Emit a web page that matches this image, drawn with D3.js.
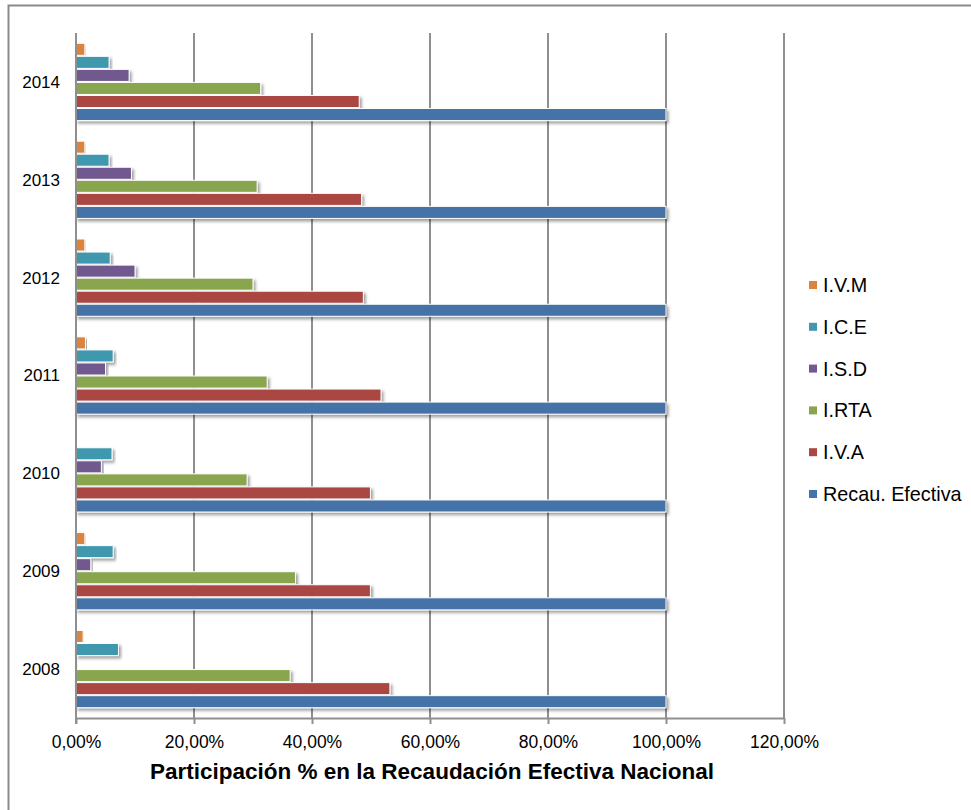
<!DOCTYPE html>
<html>
<head>
<meta charset="utf-8">
<script src="https://cdn.jsdelivr.net/npm/d3@7"></script>
<style>
  html, body { margin: 0; padding: 0; background: #fff; }
  svg { display: block; font-family: Arial, "Liberation Sans", sans-serif; }
</style>
</head>
<body>
<svg id="chart" width="971" height="810"></svg>
<script>
// Years, top to bottom in the chart
const years = ["2014", "2013", "2012", "2011", "2010", "2009", "2008"];

// Series order inside each year group (top to bottom)
const seriesNames = ["I.V.M", "I.C.E", "I.S.D", "I.RTA", "I.V.A", "Recau. Efectiva"];
const seriesColors = ["#DB843D", "#4198AF", "#71588F", "#89A54E", "#AA4643", "#4572A7"];

// Share (%) of national effective collection, per year in the order of `years`
const ivm   = [1.5, 1.5, 1.5, 1.6, 0.0, 1.5, 1.2];
const ice   = [5.6, 5.6, 5.8, 6.3, 6.1, 6.3, 7.2];
const isd   = [9.0, 9.4, 10.0, 5.0, 4.3, 2.5, 0.2];
const irta  = [31.3, 30.7, 30.0, 32.4, 29.0, 37.2, 36.3];
const iva   = [48.0, 48.4, 48.7, 51.7, 49.9, 49.9, 53.2];
const recau = [100, 100, 100, 100, 100, 100, 100];

const xTicks = [0, 20, 40, 60, 80, 100, 120];
const xTickLabels = ["0,00%", "20,00%", "40,00%", "60,00%", "80,00%", "100,00%", "120,00%"];
const axisTitle = "Participación % en la Recaudación Efectiva Nacional";

const seriesValues = [ivm, ice, isd, irta, iva, recau];

const svg = d3.select("#chart");

// Outer chart frame
svg.append("rect")
  .attr("x", 8.5).attr("y", 5.5)
  .attr("width", 975).attr("height", 820)
  .attr("fill", "#fff")
  .attr("stroke", "#8a8a8a").attr("stroke-width", 2);

const plot = { left: 76, right: 784, top: 33, bottom: 718 };

const x = d3.scaleLinear().domain([0, 120]).range([plot.left, plot.right]);
const y = d3.scaleBand().domain(years)
  .range([plot.top, plot.bottom])
  .paddingInner(0.2).paddingOuter(0.1);
const ySub = d3.scaleBand().domain(seriesNames).range([0, y.bandwidth()]);

// Soft drop shadow under the bars
const defs = svg.append("defs");
const f = defs.append("filter").attr("id", "shadow")
  .attr("x", "-5%").attr("y", "-40%").attr("width", "115%").attr("height", "200%");
f.append("feDropShadow")
  .attr("dx", 2).attr("dy", 2.5).attr("stdDeviation", 1.5)
  .attr("flood-color", "#000").attr("flood-opacity", 0.38);

// Vertical gridlines
svg.append("g").selectAll("line")
  .data(xTicks.slice(1))
  .join("line")
  .attr("x1", d => x(d)).attr("x2", d => x(d))
  .attr("y1", plot.top).attr("y2", plot.bottom)
  .attr("stroke", "#8f8f8f").attr("stroke-width", 2);

// Bars
const rows = [];
years.forEach((yr, i) => {
  seriesNames.forEach((s, j) => {
    rows.push({ year: yr, series: s, value: seriesValues[j][i], color: seriesColors[j] });
  });
});

svg.append("g").selectAll("rect")
  .data(rows.filter(d => d.value > 0))
  .join("rect")
  .attr("x", x(0))
  .attr("y", d => y(d.year) + ySub(d.series) + 0.5)
  .attr("width", d => x(d.value) - x(0))
  .attr("height", ySub.bandwidth() - 1)
  .attr("fill", d => d.color)
  .attr("stroke", "#fff").attr("stroke-width", 1)
  .attr("filter", "url(#shadow)");

// Bottom axis
const xAxis = d3.axisBottom(x)
  .tickValues(xTicks)
  .tickFormat((d, i) => xTickLabels[i])
  .tickSize(6).tickSizeOuter(0).tickPadding(12);

const gx = svg.append("g")
  .attr("transform", `translate(0,${plot.bottom})`)
  .call(xAxis);
gx.select(".domain").attr("stroke", "#8f8f8f").attr("stroke-width", 2);
gx.selectAll(".tick line").attr("stroke", "#8f8f8f").attr("stroke-width", 2);
gx.selectAll(".tick text")
  .attr("fill", "#000")
  .style("font-size", "17.5px")
  .style("font-family", "Arial, 'Liberation Sans', sans-serif");

// Left axis line and year labels
svg.append("line")
  .attr("x1", plot.left).attr("x2", plot.left)
  .attr("y1", plot.top).attr("y2", plot.bottom + 6)
  .attr("stroke", "#8f8f8f").attr("stroke-width", 2);

svg.append("g").selectAll("text")
  .data(years)
  .join("text")
  .attr("x", 60)
  .attr("y", d => y(d) + y.bandwidth() / 2)
  .attr("dy", "0.35em")
  .attr("text-anchor", "end")
  .style("font-size", "17px")
  .attr("fill", "#000")
  .text(d => d);

// Axis title
svg.append("text")
  .attr("x", (plot.left + plot.right) / 2 + 2)
  .attr("y", 779)
  .attr("text-anchor", "middle")
  .style("font-size", "22.5px")
  .style("font-weight", "bold")
  .attr("fill", "#000")
  .text(axisTitle);

// Legend
const legend = svg.append("g");
const legendTop = 285, legendStep = 41.8;
const items = legend.selectAll("g")
  .data(seriesNames.map((s, i) => ({ name: s, color: seriesColors[i] })))
  .join("g")
  .attr("transform", (d, i) => `translate(809,${legendTop + i * legendStep})`);
items.append("rect")
  .attr("x", 0).attr("y", -4)
  .attr("width", 8).attr("height", 8)
  .attr("fill", d => d.color);
items.append("text")
  .attr("x", 14).attr("y", 0).attr("dy", "0.35em")
  .style("font-size", "19.8px")
  .attr("fill", "#000")
  .text(d => d.name);
</script>
</body>
</html>
